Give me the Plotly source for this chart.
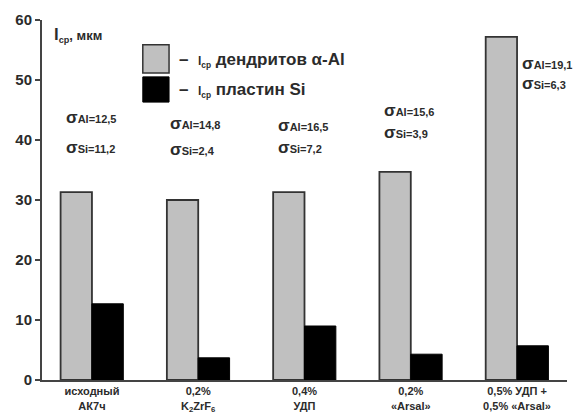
import plotly.graph_objects as go

categories = ["исходный<br>АК7ч", "0,2%<br>K<sub>2</sub>ZrF<sub>6</sub>", "0,4%<br>УДП",
              "0,2%<br>«Arsal»", "0,5% УДП +<br>0,5% «Arsal»"]
l_dendrites = [31.3, 30.0, 31.3, 34.7, 57.2]
l_si_plates = [12.7, 3.7, 9.0, 4.3, 5.7]
sigma_al = ["12,5", "14,8", "16,5", "15,6", "19,1"]
sigma_si = ["11,2", "2,4", "7,2", "3,9", "6,3"]
y_ticks = [0, 10, 20, 30, 40, 50, 60]

FONT = "Arial, Liberation Sans, sans-serif"
DARK = "#2b2b2b"
idx = list(range(len(categories)))

fig = go.Figure()
fig.add_trace(go.Bar(x=idx, y=l_dendrites, name="l ср дендритов α-Al",
                     marker=dict(color="#c0c0c0", line=dict(color="#333333", width=1.8))))
fig.add_trace(go.Bar(x=idx, y=l_si_plates, name="l ср пластин Si",
                     marker=dict(color="#000000", line=dict(color="#000000", width=1))))

# sigma annotations (offsets relative to group centre, y in data units)
sig_pos = [(-0.26, 43.7, 38.7), (-0.28, 42.7, 38.5), (-0.27, 42.5, 38.8),
           (-0.27, 45.0, 41.2), (0.03, 52.8, 49.5)]
for i, (dx, ya, ys) in enumerate(sig_pos):
    for yy, sub, val in ((ya, "Al", sigma_al[i]), (ys, "Si", sigma_si[i])):
        fig.add_annotation(
            x=i + dx, y=yy, xref="x", yref="y", xanchor="left", yanchor="middle",
            showarrow=False,
            text=f"<b><span style='font-size:17px'>σ</span><span style='font-size:11px'>{sub}={val}</span></b>",
            font=dict(family=FONT, size=11, color=DARK))

# custom legend
fig.add_shape(type="rect", xref="paper", yref="paper", x0=0.192, x1=0.242, y0=0.853, y1=0.931,
              fillcolor="#c0c0c0", line=dict(color="#333333", width=1.5))
fig.add_shape(type="rect", xref="paper", yref="paper", x0=0.192, x1=0.242, y0=0.772, y1=0.842,
              fillcolor="#000000", line=dict(color="#000000", width=1))
fig.add_annotation(x=0.257, y=0.889, xref="paper", yref="paper", xanchor="left", yanchor="middle",
                   showarrow=False,
                   text="<b>–  <span style='font-size:12px'>l<sub>ср</sub></span> дендритов α-Al</b>",
                   font=dict(family=FONT, size=17, color=DARK))
fig.add_annotation(x=0.257, y=0.806, xref="paper", yref="paper", xanchor="left", yanchor="middle",
                   showarrow=False,
                   text="<b>–  <span style='font-size:12px'>l<sub>ср</sub></span> пластин Si</b>",
                   font=dict(family=FONT, size=17, color=DARK))
# axis title
fig.add_annotation(x=0.019, y=0.958, xref="paper", yref="paper", xanchor="left", yanchor="middle",
                   showarrow=False,
                   text="<b><span style='font-size:17px'>l</span><sub>ср</sub>, мкм</b>",
                   font=dict(family=FONT, size=13, color=DARK))

# page body has an 8px margin, so the figure is sized/margined to compensate
fig.update_layout(
    width=574, height=410,
    margin=dict(l=34, r=15, t=12, b=38),
    paper_bgcolor="white", plot_bgcolor="white",
    barmode="group", bargap=0.41, bargroupgap=0,
    showlegend=False,
    font=dict(family=FONT, color=DARK),
)
fig.update_xaxes(
    tickmode="array", tickvals=idx, ticktext=[f"<b>{c}</b>" for c in categories],
    range=[-0.47, 4.47], showline=True, linecolor="#444444", linewidth=2,
    ticks="", showgrid=False, zeroline=False, automargin=False,
    tickfont=dict(family=FONT, size=11, color=DARK))
fig.update_yaxes(
    range=[0, 60], tickvals=y_ticks, ticktext=[f"<b>{t}</b>" for t in y_ticks],
    showline=True, linecolor="#444444", linewidth=2,
    ticks="outside", ticklen=5, tickwidth=2, tickcolor="#444444",
    showgrid=False, zeroline=False, automargin=False,
    tickfont=dict(family=FONT, size=15, color=DARK))

fig.write_html("out.html")
